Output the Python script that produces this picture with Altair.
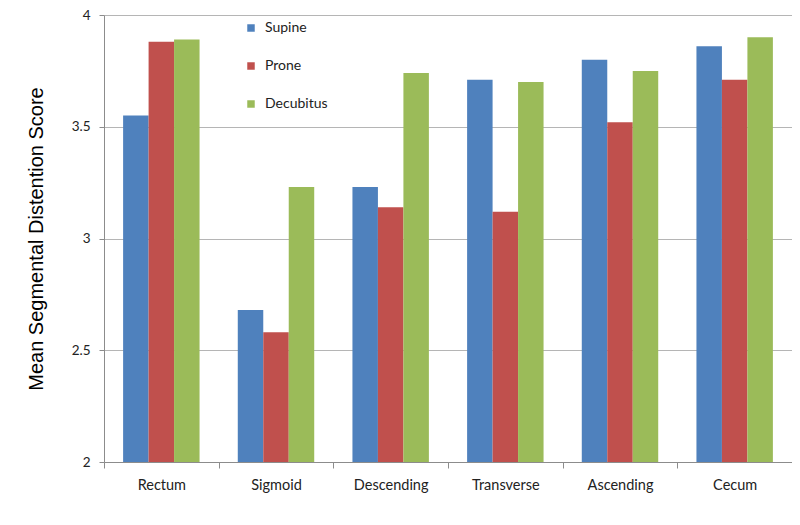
import altair as alt
import pandas as pd

segments = ["Rectum", "Sigmoid", "Descending", "Transverse", "Ascending", "Cecum"]
positions = ["Supine", "Prone", "Decubitus"]
supine = [3.55, 2.68, 3.23, 3.71, 3.80, 3.86]
prone = [3.88, 2.58, 3.14, 3.12, 3.52, 3.71]
decubitus = [3.89, 3.23, 3.74, 3.70, 3.75, 3.90]
colors = ["#4F81BD", "#C0504D", "#9BBB59"]
y_ticks = [2, 2.5, 3, 3.5, 4]

rows = []
for pos, vals in zip(positions, [supine, prone, decubitus]):
    for seg, v in zip(segments, vals):
        rows.append({"Segment": seg, "Position": pos, "Score": v})
df = pd.DataFrame(rows)

font = "Lato"

chart = alt.Chart(df).mark_bar(clip=True).encode(
    x=alt.X("Segment:N", sort=segments,
            scale=alt.Scale(paddingInner=0, paddingOuter=0),
            axis=alt.Axis(title=None, labelAngle=0, labelFont=font, labelFontSize=14.5,
                          labelColor="#222222", domainColor="#8c8c8c", tickColor="#8c8c8c",
                          tickSize=6, tickBand="extent", labelPadding=10,
                          grid=False)),
    xOffset=alt.XOffset("Position:N", sort=positions,
                        scale=alt.Scale(paddingInner=0, paddingOuter=0.75)),
    y=alt.Y("Score:Q", scale=alt.Scale(domain=[2, 4], nice=False, zero=False),
            axis=alt.Axis(title="Mean Segmental Distention Score", values=y_ticks,
                          format="~g", labelFont=font, labelFontSize=13.5, labelColor="#222222",
                          titleFont="Liberation Sans", titleFontSize=20, titleFontWeight="normal",
                          titleColor="#000000", titlePadding=25, tickSize=5, labelPadding=9,
                          domainColor="#8c8c8c", tickColor="#8c8c8c",
                          gridColor="#b5b5b5", gridWidth=1)),
    color=alt.Color("Position:N", sort=positions,
                    scale=alt.Scale(domain=positions, range=colors),
                    legend=alt.Legend(title=None, orient="none", legendX=140, legendY=6,
                                      symbolType="square", symbolSize=56, symbolStrokeWidth=0,
                                      labelFont=font, labelFontSize=14, labelColor="#222222",
                                      rowPadding=24, labelOffset=7, padding=0)),
).properties(
    width=688, height=447,
    autosize=alt.AutoSizeParams(type="none"),
    padding={"left": 96, "top": 7, "right": 0, "bottom": 50},
).configure_view(stroke=None).configure_axis(labelFontWeight="normal")

chart.save("out.html", embed_options={"renderer": "svg", "actions": False})
